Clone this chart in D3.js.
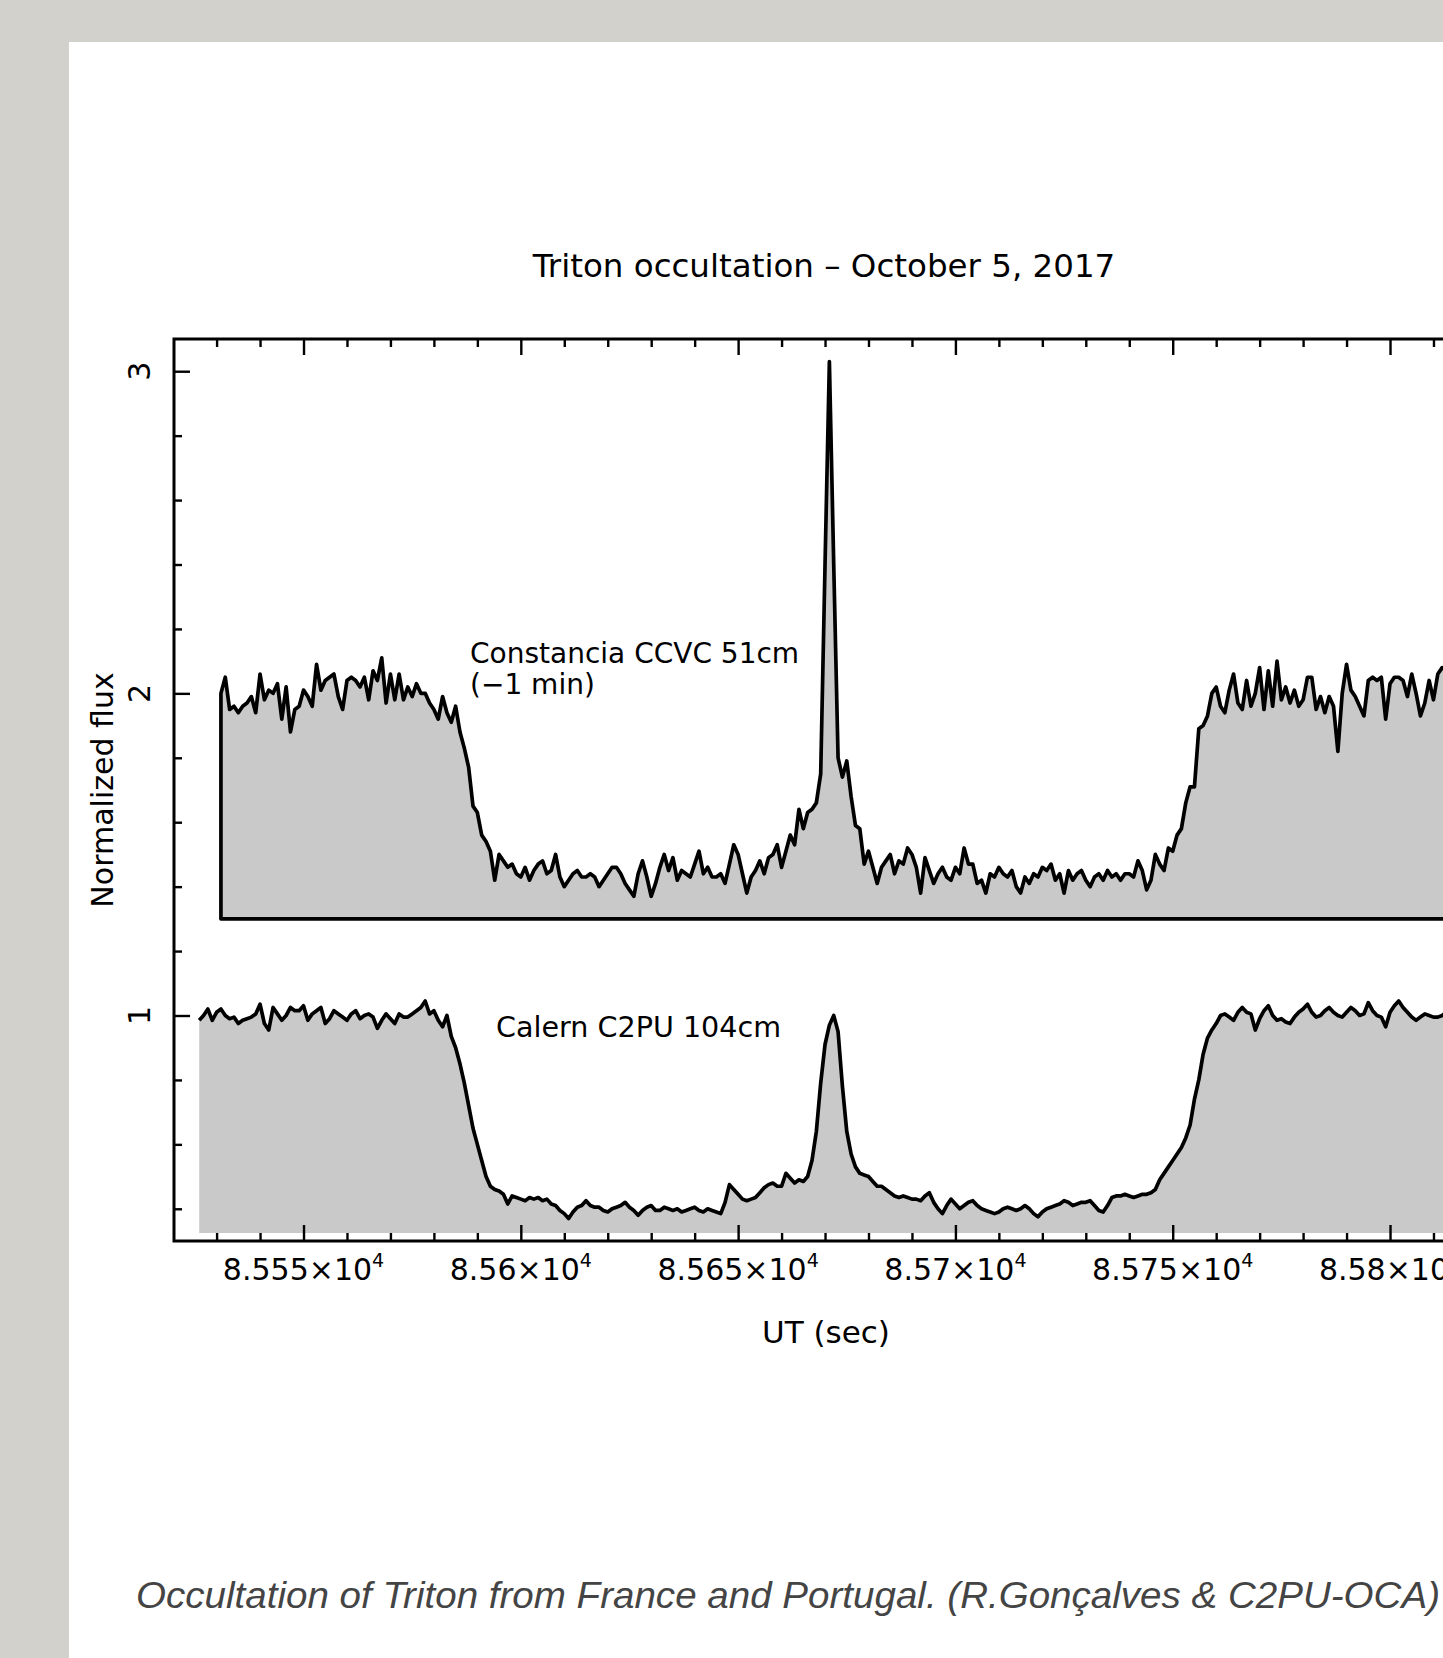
<!DOCTYPE html>
<html><head><meta charset="utf-8">
<script src="https://cdn.jsdelivr.net/npm/d3@7"></script>
<style>
html,body{margin:0;padding:0;background:#d2d1cc;overflow:hidden}
svg{display:block}
</style></head><body>
<svg id="chart" width="1443" height="1658"></svg>
<script>
// ---------------- DATA ----------------
const chartTitle = "Triton occultation – October 5, 2017";
const xAxisTitle = "UT (sec)";
const yAxisTitle = "Normalized flux";
const caption = "Occultation of Triton from France and Portugal. (R.Gonçalves & C2PU-OCA)";

const xDomain = [85520.2, 85830];
const yDomain = [0.3, 3.1];
const xMajorTicks = [85550, 85600, 85650, 85700, 85750, 85800];
const xTickMantissa = ["8.555", "8.56", "8.565", "8.57", "8.575", "8.58"];
const xTickExponent = "4";
const yMajorTicks = [1, 2, 3];
const yTickLabels = ["1", "2", "3"];

// Constancia CCVC 51cm (shifted -1 min, offset +1 in flux)
const constanciaLabel = ["Constancia CCVC 51cm", "(−1 min)"];
const constanciaBaseline = 1.30;
const constanciaTime = [
85531,85532,85533,85534,85535,85536,85537,85538,85539,85540,
85541,85542,85543,85544,85545,85546,85547,85548,85549,85550,
85551,85552,85553,85554,85555,85556,85557,85558,85559,85560,
85561,85562,85563,85564,85565,85566,85567,85568,85569,85570,
85571,85572,85573,85574,85575,85576,85577,85578,85579,85580,
85581,85582,85583,85584,85585,85586,85587,85588,85589,85590,
85591,85592,85593,85594,85595,85596,85597,85598,85599,85600,
85601,85602,85603,85604,85605,85606,85607,85608,85609,85610,
85611,85612,85613,85614,85615,85616,85617,85618,85619,85620,
85621,85622,85623,85624,85625,85626,85627,85628,85629,85630,
85631,85632,85633,85634,85635,85636,85637,85638,85639,85640,
85641,85642,85643,85644,85645,85646,85647,85648,85649,85650,
85651,85652,85653,85654,85655,85656,85657,85658,85659,85660,
85661,85662,85663,85664,85665,85666,85667,85668,85669,85670,
85671,85672,85673,85674,85675,85676,85677,85678,85679,85680,
85681,85682,85683,85684,85685,85686,85687,85688,85689,85690,
85691,85692,85693,85694,85695,85696,85697,85698,85699,85700,
85701,85702,85703,85704,85705,85706,85707,85708,85709,85710,
85711,85712,85713,85714,85715,85716,85717,85718,85719,85720,
85721,85722,85723,85724,85725,85726,85727,85728,85729,85730,
85731,85732,85733,85734,85735,85736,85737,85738,85739,85740,
85741,85742,85743,85744,85745,85746,85747,85748,85749,85750,
85751,85752,85753,85754,85755,85756,85757,85758,85759,85760,
85761,85762,85763,85764,85765,85766,85767,85768,85769,85770,
85771,85772,85773,85774,85775,85776,85777,85778,85779,85780,
85781,85782,85783,85784,85785,85786,85787,85788,85789,85790,
85791,85792,85793,85794,85795,85796,85797,85798,85799,85800,
85801,85802,85803,85804,85805,85806,85807,85808,85809,85810,
85811,85812,85813,85814,85815];
const constanciaFlux = [
2.00,2.05,1.95,1.96,1.94,1.96,1.97,1.99,1.94,2.06,
1.98,2.01,2.00,2.03,1.92,2.02,1.88,1.95,1.96,2.01,
1.99,1.96,2.09,2.01,2.04,2.05,2.06,1.99,1.95,2.04,
2.05,2.04,2.02,2.05,1.98,2.07,2.04,2.11,1.97,2.06,
1.98,2.06,1.98,2.02,1.99,2.03,2.00,2.00,1.97,1.95,
1.92,1.99,1.94,1.91,1.96,1.88,1.83,1.77,1.65,1.63,
1.56,1.54,1.51,1.42,1.50,1.48,1.46,1.47,1.44,1.43,
1.46,1.42,1.45,1.47,1.48,1.44,1.45,1.50,1.43,1.40,
1.42,1.44,1.45,1.43,1.43,1.44,1.43,1.40,1.42,1.44,
1.46,1.46,1.44,1.41,1.39,1.37,1.44,1.48,1.43,1.37,
1.41,1.46,1.50,1.45,1.49,1.42,1.45,1.44,1.43,1.47,
1.51,1.44,1.46,1.43,1.43,1.44,1.41,1.47,1.53,1.50,
1.44,1.38,1.43,1.45,1.48,1.44,1.49,1.50,1.53,1.46,
1.51,1.56,1.53,1.64,1.58,1.63,1.64,1.66,1.75,2.40,
3.03,2.40,1.80,1.74,1.79,1.68,1.59,1.58,1.47,1.51,
1.46,1.41,1.46,1.48,1.50,1.44,1.48,1.47,1.52,1.50,
1.46,1.38,1.49,1.45,1.41,1.44,1.46,1.43,1.42,1.46,
1.44,1.52,1.47,1.47,1.41,1.42,1.38,1.44,1.43,1.46,
1.44,1.43,1.45,1.40,1.38,1.43,1.41,1.44,1.43,1.46,
1.45,1.47,1.42,1.44,1.38,1.45,1.42,1.44,1.45,1.42,
1.40,1.43,1.44,1.42,1.45,1.43,1.44,1.42,1.44,1.44,
1.43,1.48,1.45,1.39,1.42,1.50,1.47,1.45,1.52,1.51,
1.56,1.58,1.66,1.71,1.71,1.89,1.90,1.93,2.00,2.02,
1.96,1.94,2.01,2.06,1.97,1.95,2.04,1.96,2.00,2.08,
1.95,2.07,1.96,2.10,1.98,2.02,1.97,2.01,1.96,1.98,
2.05,2.05,1.95,1.99,1.94,1.99,1.96,1.82,2.00,2.09,
2.01,1.99,1.96,1.93,2.04,2.05,2.04,2.05,1.92,2.03,
2.05,2.05,2.04,1.99,2.06,2.00,1.93,1.97,2.04,1.98,
2.06,2.08,2.07,2.05,2.06];

// Calern C2PU 104cm
const calernLabel = "Calern C2PU 104cm";
const calernBaseline = 0.325;
const calernTime = [
85526,85527,85528,85529,85530,85531,85532,85533,85534,85535,
85536,85537,85538,85539,85540,85541,85542,85543,85544,85545,
85546,85547,85548,85549,85550,85551,85552,85553,85554,85555,
85556,85557,85558,85559,85560,85561,85562,85563,85564,85565,
85566,85567,85568,85569,85570,85571,85572,85573,85574,85575,
85576,85577,85578,85579,85580,85581,85582,85583,85584,85585,
85586,85587,85588,85589,85590,85591,85592,85593,85594,85595,
85596,85597,85598,85599,85600,85601,85602,85603,85604,85605,
85606,85607,85608,85609,85610,85611,85612,85613,85614,85615,
85616,85617,85618,85619,85620,85621,85622,85623,85624,85625,
85626,85627,85628,85629,85630,85631,85632,85633,85634,85635,
85636,85637,85638,85639,85640,85641,85642,85643,85644,85645,
85646,85647,85648,85649,85650,85651,85652,85653,85654,85655,
85656,85657,85658,85659,85660,85661,85662,85663,85664,85665,
85666,85667,85668,85669,85670,85671,85672,85673,85674,85675,
85676,85677,85678,85679,85680,85681,85682,85683,85684,85685,
85686,85687,85688,85689,85690,85691,85692,85693,85694,85695,
85696,85697,85698,85699,85700,85701,85702,85703,85704,85705,
85706,85707,85708,85709,85710,85711,85712,85713,85714,85715,
85716,85717,85718,85719,85720,85721,85722,85723,85724,85725,
85726,85727,85728,85729,85730,85731,85732,85733,85734,85735,
85736,85737,85738,85739,85740,85741,85742,85743,85744,85745,
85746,85747,85748,85749,85750,85751,85752,85753,85754,85755,
85756,85757,85758,85759,85760,85761,85762,85763,85764,85765,
85766,85767,85768,85769,85770,85771,85772,85773,85774,85775,
85776,85777,85778,85779,85780,85781,85782,85783,85784,85785,
85786,85787,85788,85789,85790,85791,85792,85793,85794,85795,
85796,85797,85798,85799,85800,85801,85802,85803,85804,85805,
85806,85807,85808,85809,85810,85811,85812,85813,85814];
const calernFlux = [
0.985,1.00,1.02,0.985,1.01,1.02,1.00,0.99,0.995,0.975,
0.985,0.99,0.995,1.005,1.035,0.975,0.955,1.025,1.005,0.985,
1.00,1.025,1.015,1.015,1.03,0.985,1.005,1.015,1.025,0.975,
0.99,1.015,1.005,0.995,0.985,1.005,1.015,0.99,1.00,1.005,
0.995,0.96,0.985,1.005,0.99,0.975,1.005,0.995,0.995,1.005,
1.015,1.025,1.045,1.005,1.015,0.985,0.965,1.00,0.935,0.90,
0.85,0.79,0.72,0.65,0.60,0.55,0.50,0.47,0.46,0.455,
0.445,0.415,0.44,0.435,0.43,0.425,0.435,0.43,0.435,0.425,
0.43,0.415,0.41,0.395,0.385,0.37,0.39,0.405,0.41,0.425,
0.41,0.405,0.405,0.395,0.39,0.40,0.405,0.41,0.42,0.405,
0.395,0.38,0.395,0.405,0.41,0.395,0.395,0.405,0.40,0.395,
0.40,0.39,0.395,0.40,0.405,0.395,0.39,0.40,0.395,0.39,
0.385,0.42,0.475,0.46,0.445,0.43,0.425,0.43,0.435,0.45,
0.465,0.475,0.48,0.47,0.47,0.51,0.495,0.48,0.49,0.485,
0.50,0.55,0.64,0.79,0.91,0.97,1.00,0.95,0.78,0.64,
0.57,0.53,0.51,0.505,0.50,0.485,0.47,0.47,0.46,0.45,
0.44,0.435,0.44,0.435,0.43,0.43,0.425,0.44,0.45,0.42,
0.40,0.385,0.41,0.43,0.415,0.40,0.41,0.42,0.425,0.41,
0.40,0.395,0.39,0.385,0.39,0.40,0.405,0.40,0.395,0.40,
0.41,0.40,0.385,0.375,0.39,0.40,0.405,0.41,0.415,0.425,
0.42,0.41,0.415,0.42,0.42,0.425,0.41,0.395,0.39,0.41,
0.435,0.44,0.44,0.445,0.44,0.435,0.44,0.445,0.445,0.45,
0.46,0.49,0.51,0.53,0.55,0.57,0.59,0.62,0.66,0.74,
0.80,0.88,0.93,0.955,0.975,1.00,1.005,0.995,0.985,1.01,
1.025,1.01,1.005,0.955,0.99,1.015,1.03,1.00,0.985,0.99,
0.98,0.975,0.995,1.01,1.02,1.035,1.01,0.995,1.00,1.015,
1.025,1.01,1.00,0.995,1.01,1.025,1.015,1.00,1.005,1.04,
1.015,1.00,0.995,0.965,1.01,1.03,1.045,1.025,1.01,0.995,
0.985,0.995,1.005,1.00,0.995,0.995,1.00,1.01,0.99];

// ---------------- DRAW ----------------
const FONT = "'DejaVu Sans', sans-serif";
const svg = d3.select("#chart");
svg.append("rect").attr("x", 69).attr("y", 42).attr("width", 1443 - 69).attr("height", 1658 - 42).attr("fill", "#ffffff");

const P = {left: 174, right: 1520.4, top: 339, bottom: 1241};
const x = d3.scaleLinear().domain(xDomain).range([P.left, P.right]);
const y = d3.scaleLinear().domain(yDomain).range([P.bottom, P.top]);

const calern = calernTime.map((t, i) => ({t, v: calernFlux[i]}));
const constancia = constanciaTime.map((t, i) => ({t, v: constanciaFlux[i]}));

const FILL = "#c9c9c9";
const LW = 3.7;
const line = d3.line().x(d => x(d.t)).y(d => y(d.v));

// Calern: filled area, outline on top only
svg.append("path").datum(calern)
  .attr("d", d3.area().x(d => x(d.t)).y0(y(calernBaseline)).y1(d => y(d.v)))
  .attr("fill", FILL);
svg.append("path").datum(calern).attr("d", line)
  .attr("fill", "none").attr("stroke", "#000").attr("stroke-width", LW).attr("stroke-linejoin", "round");

// Constancia: closed outlined polygon
const cPoly = [{t: constancia[0].t, v: constanciaBaseline}, ...constancia, {t: constancia[constancia.length - 1].t, v: constanciaBaseline}];
svg.append("path").datum(cPoly)
  .attr("d", line(cPoly) + "Z")
  .attr("fill", FILL).attr("stroke", "#000").attr("stroke-width", LW).attr("stroke-linejoin", "round");

// Axes (ticks pointing inward)
const minorX = d3.range(85530, 85830, 10).filter(v => !xMajorTicks.includes(v));
const minorY = d3.range(0.4, 3.01, 0.2).map(v => +v.toFixed(1)).filter(v => !yMajorTicks.includes(v));
function styleAxis(g) {
  g.select(".domain").remove();
  g.selectAll("line").attr("stroke", "#000").attr("stroke-width", 2.4);
  g.selectAll("text").remove();
}
svg.append("g").attr("transform", `translate(0,${P.bottom})`).call(d3.axisBottom(x).tickValues(minorX).tickSize(-8)).call(styleAxis);
svg.append("g").attr("transform", `translate(0,${P.bottom})`).call(d3.axisBottom(x).tickValues(xMajorTicks).tickSize(-16)).call(styleAxis);
svg.append("g").attr("transform", `translate(0,${P.top})`).call(d3.axisTop(x).tickValues(minorX).tickSize(-8)).call(styleAxis);
svg.append("g").attr("transform", `translate(0,${P.top})`).call(d3.axisTop(x).tickValues(xMajorTicks).tickSize(-16)).call(styleAxis);
svg.append("g").attr("transform", `translate(${P.left},0)`).call(d3.axisLeft(y).tickValues(minorY).tickSize(-8)).call(styleAxis);
svg.append("g").attr("transform", `translate(${P.left},0)`).call(d3.axisLeft(y).tickValues(yMajorTicks).tickSize(-16)).call(styleAxis);

// Frame
svg.append("rect").attr("x", P.left).attr("y", P.top).attr("width", P.right - P.left).attr("height", P.bottom - P.top)
  .attr("fill", "none").attr("stroke", "#000").attr("stroke-width", 3);

// X tick labels with superscript exponent
xMajorTicks.forEach((v, i) => {
  const t = svg.append("text").attr("x", x(v)).attr("y", 1280).attr("text-anchor", "middle")
    .attr("font-family", FONT).attr("font-size", 30).attr("fill", "#000");
  t.append("tspan").text(xTickMantissa[i] + "×10");
  t.append("tspan").attr("dy", -13).attr("font-size", 19).text(xTickExponent);
});

// Y tick labels (rotated)
yMajorTicks.forEach((v, i) => {
  svg.append("text").attr("transform", `translate(150,${y(v)}) rotate(-90)`)
    .attr("text-anchor", "middle").attr("font-family", FONT).attr("font-size", 30).attr("fill", "#000")
    .text(yTickLabels[i]);
});

// Titles
svg.append("text").attr("x", 824).attr("y", 277).attr("text-anchor", "middle")
  .attr("font-family", FONT).attr("font-size", 32.5).attr("fill", "#000").text(chartTitle);
svg.append("text").attr("x", 826).attr("y", 1343).attr("text-anchor", "middle")
  .attr("font-family", FONT).attr("font-size", 31).attr("fill", "#000").text(xAxisTitle);
svg.append("text").attr("transform", `translate(113,790) rotate(-90)`).attr("text-anchor", "middle")
  .attr("font-family", FONT).attr("font-size", 30).attr("fill", "#000").text(yAxisTitle);

// Series labels
svg.append("text").attr("x", 470).attr("y", 663).attr("font-family", FONT).attr("font-size", 28).attr("fill", "#000").text(constanciaLabel[0]);
svg.append("text").attr("x", 470).attr("y", 694).attr("font-family", FONT).attr("font-size", 28).attr("fill", "#000").text(constanciaLabel[1]);
svg.append("text").attr("x", 496).attr("y", 1037).attr("font-family", FONT).attr("font-size", 28.6).attr("fill", "#000").text(calernLabel);

// Caption
svg.append("text").attr("x", 136).attr("y", 1608)
  .attr("font-family", "'Liberation Sans', Arial, sans-serif").attr("font-style", "italic")
  .attr("font-size", 36).attr("fill", "#444").attr("textLength", 1304).attr("lengthAdjust", "spacingAndGlyphs")
  .text(caption);
</script>
</body></html>
